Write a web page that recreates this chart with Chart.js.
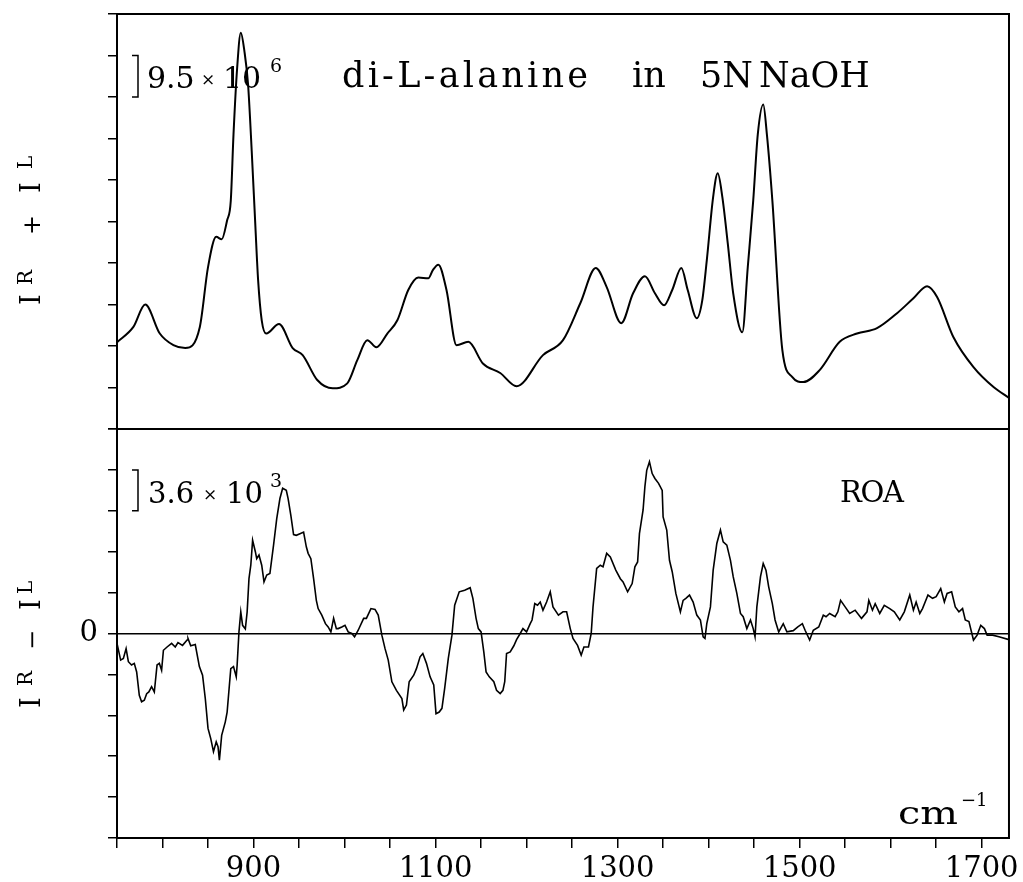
<!DOCTYPE html>
<html>
<head>
<meta charset="utf-8">
<script src="https://cdn.jsdelivr.net/npm/chart.js@4.4.0/dist/chart.umd.min.js"></script>
<style>
  html, body { margin: 0; padding: 0; background: #fff; }
  #wrap { position: relative; width: 1023px; height: 882px; }
  #wrap canvas { position: absolute; left: 0; top: 0; }
</style>
</head>
<body>
<div id="wrap">
  <canvas id="ramanChart" width="1023" height="882"></canvas>
  <canvas id="roaChart" width="1023" height="882"></canvas>
</div>
<script>
// Raman spectrum (I^R + I^L), in units of the 9.5 x 10^6 scale bar
const ramanWavenumber = [750, 768, 781, 797, 812, 825, 841, 850, 859, 865, 871, 875, 878, 882, 886, 890, 894, 898, 902, 905, 909, 914,
  928, 943, 954, 970, 987, 1003, 1014, 1025, 1035, 1047, 1058, 1070, 1081, 1092, 1097, 1103, 1112, 1123, 1136, 1152, 1171, 1189,
  1218, 1240, 1259, 1276, 1288, 1304, 1317, 1330, 1341, 1351, 1360, 1370, 1377, 1387, 1393, 1398, 1405, 1410, 1415, 1421, 1427,
  1437, 1443, 1449, 1454, 1460, 1464, 1470, 1481, 1492, 1504, 1522, 1544, 1563, 1585, 1607, 1625, 1640, 1651, 1669, 1691, 1713, 1730];
const ramanIntensity = [2.09, 2.46, 3.00, 2.30, 2.02, 1.95, 2.46, 3.90, 4.63, 4.57, 5.03, 5.50, 7.10, 8.70, 9.55, 9.10, 8.30, 6.70, 4.90, 3.60, 2.62, 2.30,
  2.53, 1.95, 1.78, 1.18, 0.98, 1.10, 1.66, 2.14, 1.97, 2.30, 2.62, 3.35, 3.65, 3.63, 3.83, 3.96, 3.35, 2.02, 2.10, 1.58, 1.35, 1.03,
  1.78, 2.14, 3.03, 3.88, 3.42, 2.55, 3.27, 3.68, 3.27, 2.98, 3.35, 3.88, 3.35, 2.67, 3.10, 4.07, 5.60, 6.16, 5.60, 4.48, 3.27,
  2.33, 3.90, 5.51, 7.10, 7.82, 7.10, 5.51, 1.90, 1.25, 1.13, 1.42, 2.10, 2.30, 2.43, 2.79, 3.15, 3.44, 3.18, 2.21, 1.49, 1.01, 0.75];

// ROA spectrum (I^R - I^L), in units of the 3.6 x 10^3 scale bar
const roaWavenumber = [750, 754, 757, 760, 762.5, 766, 769, 771.6, 774.5, 777, 780, 782.6, 785, 788, 791, 794, 796.5, 799, 801, 805, 810, 814, 817, 822, 827, 828, 831, 836,
  840.5, 844, 847, 850, 853, 856, 859, 861, 862.5, 865, 869, 871, 875, 878, 881, 882, 884, 886, 888, 891, 893, 895, 897, 899, 902, 903.5, 906, 909, 911.5, 914.5, 918,
  922, 925.5, 929, 932, 936, 938, 941, 944, 947, 951, 955, 958, 960, 963, 966, 969, 971, 975, 979, 982, 985, 988, 991, 993, 997, 1000.5, 1004, 1008, 1011, 1015,
  1021, 1024, 1029, 1033.5, 1037, 1041, 1044.5, 1048, 1052, 1057, 1063, 1065, 1068, 1071, 1076, 1079, 1083, 1086, 1090, 1094, 1098, 1100.5, 1104, 1107, 1110, 1114,
  1118, 1121, 1126, 1132, 1138, 1141, 1144.5, 1147, 1150, 1153, 1155.5, 1159, 1164, 1167, 1171, 1174, 1176, 1178, 1182, 1186, 1189, 1193, 1196, 1200, 1204, 1206,
  1209, 1212, 1215, 1218, 1222, 1226, 1229, 1235, 1240, 1244, 1248, 1251, 1256, 1260, 1263, 1268, 1271, 1273, 1277, 1281, 1284, 1288, 1292, 1298, 1303, 1306, 1311,
  1316, 1319, 1322, 1324, 1328, 1330, 1332, 1335, 1338, 1341, 1345, 1349, 1350, 1354, 1357, 1360, 1364, 1369, 1372, 1375, 1379, 1383, 1387, 1391, 1394, 1396, 1398,
  1402, 1405, 1409, 1413, 1416, 1420, 1424, 1427, 1431, 1435, 1438, 1442, 1446, 1449, 1451, 1453, 1457, 1460, 1463, 1466, 1470, 1473, 1477, 1482, 1486, 1493, 1498,
  1503, 1506, 1511, 1515, 1521, 1526, 1529, 1533, 1539, 1542, 1545, 1550, 1555, 1561, 1568, 1574, 1576, 1580, 1583, 1588, 1593, 1599, 1604, 1610, 1615, 1621, 1625,
  1628, 1632, 1635, 1641, 1646, 1650, 1655, 1659, 1662, 1667, 1671, 1675, 1679, 1682, 1686, 1691, 1695, 1699, 1703, 1706, 1712, 1719, 1730];
const roaIntensity = [-0.24, -0.65, -0.61, -0.37, -0.69, -0.77, -0.73, -0.94, -1.51, -1.67, -1.63, -1.47, -1.43, -1.30, -1.43, -0.77, -0.73, -0.90, -0.41, -0.33, -0.24, -0.33, -0.22, -0.29, -0.16, -0.12, -0.30, -0.27,
  -0.81, -1.02, -1.59, -2.32, -2.57, -2.89, -2.65, -2.77, -3.10, -2.49, -2.16, -1.92, -0.86, -0.81, -1.06, -0.77, 0.04, 0.53, 0.20, 0.11, 0.53, 1.34, 1.67, 2.28, 2.00, 1.83, 1.92, 1.67, 1.26, 1.43, 1.47,
  2.16, 2.81, 3.30, 3.55, 3.50, 3.30, 2.89, 2.42, 2.40, 2.44, 2.48, 2.12, 1.96, 1.83, 1.34, 0.81, 0.61, 0.45, 0.24, 0.16, 0.04, 0.37, 0.12, 0.12, 0.16, 0.20, 0.04, 0.00, -0.08, 0.08,
  0.37, 0.37, 0.61, 0.59, 0.45, -0.04, -0.37, -0.65, -1.18, -1.39, -1.59, -1.87, -1.75, -1.18, -1.02, -0.86, -0.57, -0.49, -0.73, -1.06, -1.26, -1.96, -1.92, -1.83, -1.34, -0.61,
  -0.04, 0.69, 1.02, 1.06, 1.12, 0.86, 0.37, 0.12, 0.04, -0.45, -0.94, -1.06, -1.18, -1.39, -1.47, -1.39, -1.18, -0.49, -0.45, -0.30, -0.15, 0.00, 0.12, 0.04, 0.24, 0.33,
  0.73, 0.69, 0.77, 0.57, 0.77, 1.02, 0.65, 0.45, 0.53, 0.53, 0.12, -0.12, -0.29, -0.53, -0.33, -0.33, 0.00, 0.65, 1.59, 1.67, 1.63, 1.96, 1.87, 1.55, 1.34, 1.26, 1.02,
  1.22, 1.63, 1.75, 2.44, 3.02, 3.59, 3.99, 4.20, 3.91, 3.79, 3.67, 3.50, 2.85, 2.53, 1.79, 1.51, 0.98, 0.53, 0.81, 0.86, 0.94, 0.77, 0.45, 0.33, -0.08, -0.12, 0.24,
  0.65, 1.55, 2.20, 2.53, 2.24, 2.16, 1.79, 1.39, 0.98, 0.49, 0.41, 0.12, 0.33, 0.12, -0.08, 0.65, 1.39, 1.71, 1.55, 1.14, 0.73, 0.33, 0.04, 0.24, 0.04, 0.07, 0.16,
  0.24, 0.08, -0.16, 0.08, 0.16, 0.45, 0.41, 0.49, 0.41, 0.53, 0.81, 0.65, 0.49, 0.57, 0.37, 0.53, 0.81, 0.57, 0.73, 0.49, 0.69, 0.61, 0.53, 0.33, 0.53, 0.94, 0.57,
  0.77, 0.49, 0.61, 0.94, 0.86, 0.90, 1.10, 0.77, 0.98, 1.02, 0.65, 0.53, 0.61, 0.33, 0.29, -0.16, -0.04, 0.20, 0.12, -0.04, -0.04, -0.08, -0.15];

const xTickLabels = [900, 1100, 1300, 1500, 1700];
const roaTickLabels = [0];

const serif = '"DejaVu Serif", serif';
Chart.defaults.font.family = serif;
Chart.defaults.color = '#000';

// draw a string char by char so it fills a given width (plotter-style lettering)
function spacedText(ctx, str, x, y, width) {
  const natural = ctx.measureText(str).width;
  const gap = str.length > 1 ? (width - natural) / (str.length - 1) : 0;
  let cx = x;
  for (const ch of str) {
    ctx.fillText(ch, cx, y);
    cx += ctx.measureText(ch).width + gap;
  }
}

// draw a string stretched horizontally to a given width
function stretchText(ctx, str, x, y, width) {
  const sx = width / ctx.measureText(str).width;
  ctx.save();
  ctx.translate(x, y);
  ctx.scale(sx, 1);
  ctx.fillText(str, 0, 0);
  ctx.restore();
}

function text(ctx, str, x, y, size, align) {
  ctx.font = size + 'px ' + serif;
  ctx.textAlign = align || 'left';
  ctx.fillText(str, x, y);
}

// "]" shaped scale bar spanning one tick interval
function scaleBar(ctx, yScale, from, to, x) {
  const y1 = yScale.getPixelForValue(to);
  const y2 = yScale.getPixelForValue(from);
  ctx.beginPath();
  ctx.moveTo(x - 6, y1);
  ctx.lineTo(x, y1);
  ctx.lineTo(x, y2);
  ctx.lineTo(x - 6, y2);
  ctx.stroke();
}

// vertical axis label with superscripts, pieces = [text, offset, size, raise]
function verticalLabel(ctx, x, y, pieces) {
  ctx.save();
  ctx.translate(x, y);
  ctx.rotate(-Math.PI / 2);
  ctx.textAlign = 'left';
  ctx.textBaseline = 'alphabetic';
  pieces.forEach(p => {
    ctx.font = p[2] + 'px ' + serif;
    ctx.fillText(p[0], p[1], -p[3]);
  });
  ctx.restore();
}

function frame(chart) {
  const a = chart.chartArea, ctx = chart.ctx;
  ctx.save();
  ctx.strokeStyle = '#000';
  ctx.lineWidth = 2;
  ctx.strokeRect(a.left, a.top, a.right - a.left, a.bottom - a.top);
  ctx.restore();
}

const ramanDecor = {
  id: 'ramanDecor',
  afterDraw(chart) {
    frame(chart);
    const ctx = chart.ctx;
    ctx.save();
    ctx.fillStyle = '#000';
    ctx.strokeStyle = '#000';
    ctx.lineWidth = 1.5;
    ctx.textBaseline = 'alphabetic';

    ctx.font = '35px ' + serif;
    ctx.textAlign = 'left';
    spacedText(ctx, 'di-L-alanine', 342, 87, 246);
    ctx.fillText('in', 632, 87);
    ctx.fillText('5N', 700, 87);
    ctx.fillText('NaOH', 759, 87);

    scaleBar(ctx, chart.scales.y, 8, 9, 138);
    text(ctx, '9.5', 147, 88, 30);
    text(ctx, '\u00d7', 208, 85, 17, 'center');
    text(ctx, '10', 223, 88, 30);
    text(ctx, '6', 270, 72, 19);

    verticalLabel(ctx, 40, 305, [['I', 0, 27, 0], ['R', 20, 20, 8], ['+', 70, 24, 0], ['I', 112, 27, 0], ['L', 136, 20, 8]]);
    ctx.restore();
  }
};

const roaDecor = {
  id: 'roaDecor',
  afterDraw(chart) {
    frame(chart);
    const ctx = chart.ctx;
    ctx.save();
    ctx.fillStyle = '#000';
    ctx.strokeStyle = '#000';
    ctx.lineWidth = 1.5;
    ctx.textBaseline = 'alphabetic';

    scaleBar(ctx, chart.scales.y, 3, 4, 138);
    text(ctx, '3.6', 148, 503, 29);
    text(ctx, '\u00d7', 210, 500, 17, 'center');
    text(ctx, '10', 226, 503, 29);
    text(ctx, '3', 270, 487, 19);

    ctx.font = '29px ' + serif;
    ctx.textAlign = 'left';
    spacedText(ctx, 'ROA', 840, 502, 64);

    ctx.font = '31px ' + serif;
    stretchText(ctx, 'cm', 898, 824, 60);
    text(ctx, '\u22121', 961, 806, 18);

    verticalLabel(ctx, 40, 708, [['I', 0, 27, 0], ['R', 22, 20, 8], ['\u2212', 58, 24, 0], ['I', 98, 27, 0], ['L', 114, 20, 8]]);
    ctx.restore();
  }
};

new Chart(document.getElementById('ramanChart').getContext('2d'), {
  type: 'line',
  data: {
    datasets: [{
      data: ramanWavenumber.map((w, i) => ({ x: w, y: ramanIntensity[i] })),
      borderColor: '#000',
      borderWidth: 2,
      pointRadius: 0,
      fill: false,
      cubicInterpolationMode: 'monotone'
    }]
  },
  options: {
    responsive: false,
    animation: false,
    events: [],
    layout: { padding: { left: 0, right: 14, top: 14, bottom: 453 } },
    plugins: { legend: { display: false }, tooltip: { enabled: false } },
    scales: {
      x: { type: 'linear', min: 750, max: 1730, display: false },
      y: {
        min: 0,
        max: 10,
        afterFit: s => { s.width = 117; },
        ticks: { stepSize: 1, display: false },
        grid: { drawOnChartArea: false, tickLength: 9, color: '#000', lineWidth: 1.5 },
        border: { color: '#000', width: 2 }
      }
    }
  },
  plugins: [ramanDecor]
});

new Chart(document.getElementById('roaChart').getContext('2d'), {
  type: 'line',
  data: {
    datasets: [{
      data: roaWavenumber.map((w, i) => ({ x: w, y: roaIntensity[i] })),
      borderColor: '#000',
      borderWidth: 1.6,
      pointRadius: 0,
      fill: false,
      tension: 0
    }]
  },
  options: {
    responsive: false,
    animation: false,
    events: [],
    layout: { padding: { left: 0, right: 14, top: 429, bottom: 0 } },
    plugins: { legend: { display: false }, tooltip: { enabled: false } },
    scales: {
      x: {
        type: 'linear',
        min: 750,
        max: 1730,
        afterFit: s => { s.height = 44; },
        ticks: {
          stepSize: 50,
          includeBounds: false,
          autoSkip: false,
          maxRotation: 0,
          padding: 4,
          font: { size: 29 },
          callback: v => xTickLabels.includes(v) ? String(v) : ''
        },
        grid: { drawOnChartArea: false, tickLength: 10, color: '#000', lineWidth: 1.5 },
        border: { color: '#000', width: 2 }
      },
      y: {
        min: -5,
        max: 5,
        afterFit: s => { s.width = 117; },
        ticks: {
          stepSize: 1,
          padding: 10,
          font: { size: 29 },
          callback: v => roaTickLabels.includes(v) ? String(v) : ''
        },
        grid: {
          color: c => (c.tick && c.tick.value === 0) ? '#000' : 'rgba(0,0,0,0)',
          tickColor: '#000',
          lineWidth: 1.5,
          tickLength: 9
        },
        border: { color: '#000', width: 2 }
      }
    }
  },
  plugins: [roaDecor]
});
</script>
</body>
</html>
